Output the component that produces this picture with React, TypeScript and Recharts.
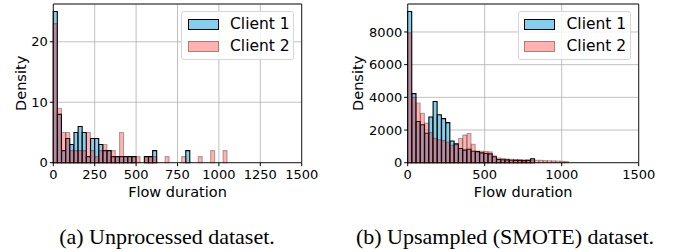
import React from 'react';
import { BarChart, Bar, XAxis, YAxis, CartesianGrid, ReferenceArea } from 'recharts';

// ---------- data ----------
const seriesNames = ['Client 1', 'Client 2'];
const captions = ['(a) Unprocessed dataset.', '(b) Upsampled (SMOTE) dataset.'];
const xLabel = 'Flow duration';
const yLabel = 'Density';

// (a) unprocessed: bins of width 25
const binCentersA = [12.5, 37.5, 62.5, 87.5, 112.5, 137.5, 162.5, 187.5, 212.5, 237.5, 262.5, 287.5, 312.5, 337.5, 362.5, 387.5, 412.5, 437.5, 462.5, 487.5, 512.5, 537.5, 562.5, 587.5, 612.5, 637.5, 662.5, 687.5, 712.5, 737.5, 762.5, 787.5, 812.5, 837.5, 862.5, 887.5, 912.5, 937.5, 962.5, 987.5, 1012.5, 1037.5];
const client1A = [25, 8, 2, 4, 3, 5, 6, 5, 1, 4, 4, 3, 2, 2, 1, 1, 1, 1, 1, 1, 0, 0, 1, 1, 2, 0, 0, 0, 0, 0, 0, 0, 2];
const client2A = [23, 9, 5, 5, 2, 2, 2, 2, 5, 2, 1, 2, 3, 2, 2, 1, 5, 1, 1, 1, 1, 0, 1, 1, 1, 0, 0, 1, 0, 0, 0, 1, 0, 0, 0, 1, 0, 0, 2, 0, 0, 2];
const xTicksA = [0, 250, 500, 750, 1000, 1250, 1500];
const yTicksA = [0, 10, 20];
const yMaxA = 26.25;

// (b) SMOTE: bins of width 27.5
const binCentersB = [13.75, 41.25, 68.75, 96.25, 123.75, 151.25, 178.75, 206.25, 233.75, 261.25, 288.75, 316.25, 343.75, 371.25, 398.75, 426.25, 453.75, 481.25, 508.75, 536.25, 563.75, 591.25, 618.75, 646.25, 673.75, 701.25, 728.75, 756.25, 783.75, 811.25, 838.75, 866.25, 893.75, 921.25, 948.75, 976.25, 1003.75, 1031.25];
const client1B = [9250, 4230, 2520, 2320, 1800, 2800, 3750, 2930, 2700, 2450, 1330, 1150, 870, 770, 820, 700, 680, 600, 560, 540, 360, 200, 180, 170, 150, 140, 140, 130, 140, 240];
const client2B = [7950, 4000, 3650, 3030, 2420, 1850, 1500, 1400, 1350, 1250, 1070, 1100, 1480, 1690, 1790, 1130, 720, 700, 680, 660, 420, 280, 250, 230, 210, 190, 180, 170, 160, 160, 150, 140, 130, 120, 110, 100, 90, 70];
const xTicksB = [0, 500, 1000, 1500];
const yTicksB = [0, 2000, 4000, 6000, 8000];
const yMaxB = 9712.5;

const xDomain = [0, 1500];

const toRows = (centers: number[], c1: number[], c2: number[]) =>
  centers.map((x, i) => ({
    x,
    c1: i < c1.length ? c1[i] : null,
    c2: i < c2.length ? c2[i] : null,
  }));

const rowsA = toRows(binCentersA, client1A, client2A);
const rowsB = toRows(binCentersB, client1B, client2B);

// ---------- styles ----------
const FONT = '"DejaVu Sans", Verdana, sans-serif';
const SERIF = '"Liberation Serif", "Times New Roman", serif';
const C1_FILL = '#87CEEB';
const C2_FILL = '#ff0000';
const C2_OPACITY = 0.3;
const GRID = '#b0b0b0';
const FRAME = '#222';
const TICK_FS = 13;
const LABEL_FS = 14.5;
const LEGEND_FS = 15.5;

const YLab = (props: any) => {
  const { viewBox, cxOff } = props;
  const cx = viewBox.x + cxOff;
  const cy = viewBox.y + viewBox.height / 2;
  return (
    <text x={cx} y={cy} transform={`rotate(-90 ${cx} ${cy})`} textAnchor="middle" dominantBaseline="central"
      fontFamily={FONT} fontSize={LABEL_FS} fill="#000">{yLabel}</text>
  );
};

const LegendBox = ({ left }: { left: number }) => (
  <div style={{ position: 'absolute', left, top: 11, width: 113, height: 49, border: '1px solid #d6d6d6', borderRadius: 3,
    background: 'rgba(255,255,255,0.8)', boxSizing: 'border-box', fontFamily: FONT, fontSize: LEGEND_FS, color: '#000' }}>
    {seriesNames.map((n, i) => (
      <div key={n} style={{ position: 'absolute', left: 5.5, top: 7 + i * 22, height: 11, display: 'flex', alignItems: 'center' }}>
        <div style={{ width: 31, height: 11, boxSizing: 'border-box', flex: 'none',
          background: i === 0 ? C1_FILL : 'rgba(255,0,0,0.3)',
          border: i === 0 ? '1px solid #000' : '1px solid rgba(0,0,0,0.3)' }} />
        <span style={{ marginLeft: 11.5, whiteSpace: 'nowrap', lineHeight: '11px' }}>{n}</span>
      </div>
    ))}
  </div>
);

type PanelProps = {
  left: number; width: number; yAxisWidth: number; marginRight: number;
  rows: any[]; xTicks: number[]; yTicks: number[]; yMax: number; legendLeft: number; yLabOff: number;
};

const H = 205;
const PLOT_TOP = 4;
const PLOT_BOTTOM = 162.7;
const XAXIS_H = 34;

const Panel = (p: PanelProps) => (
  <div style={{ position: 'absolute', left: p.left, top: 0, width: p.width, height: H }}>
    <BarChart width={p.width} height={H} data={p.rows} barCategoryGap={0} barGap={0}
      margin={{ top: PLOT_TOP, right: p.marginRight, left: 0, bottom: H - PLOT_BOTTOM - XAXIS_H }}>
      <XAxis xAxisId="a" type="number" dataKey="x" domain={xDomain} ticks={p.xTicks} interval={0}
        axisLine={false} tickSize={3.5} tickMargin={4} height={XAXIS_H}
        tick={{ fill: '#000', fontSize: TICK_FS, fontFamily: FONT }} tickLine={{ stroke: '#000' }}
        label={{ value: xLabel, position: 'insideBottom', offset: 0, fill: '#000', fontSize: LABEL_FS, fontFamily: FONT }} />
      <XAxis xAxisId="b" type="number" dataKey="x" domain={xDomain} hide />
      <YAxis type="number" domain={[0, p.yMax]} ticks={p.yTicks} interval={0} width={p.yAxisWidth}
        axisLine={false} tickSize={3.5} tickMargin={2}
        tick={{ fill: '#000', fontSize: TICK_FS, fontFamily: FONT }} tickLine={{ stroke: '#000' }}
        label={<YLab cxOff={p.yLabOff} />} />
      <Bar xAxisId="a" dataKey="c1" fill={C1_FILL} stroke="#000" strokeWidth={1.1} isAnimationActive={false} />
      <Bar xAxisId="b" dataKey="c2" fill={C2_FILL} fillOpacity={C2_OPACITY} stroke="#000" strokeOpacity={0.3}
        strokeWidth={1.1} isAnimationActive={false} />
      <CartesianGrid xAxisId="a" stroke={GRID} strokeWidth={0.8} />
      <ReferenceArea xAxisId="a" x1={xDomain[0]} x2={xDomain[1]} y1={0} y2={p.yMax} fill="none" stroke={FRAME}
        strokeWidth={1} fillOpacity={0} ifOverflow="visible" />
    </BarChart>
    <LegendBox left={p.legendLeft} />
  </div>
);

export default function App() {
  return (
    <div style={{ position: 'absolute', left: 0, top: 0, width: 679, height: 252, background: '#fff', overflow: 'hidden' }}>
      <Panel left={0} width={340} yAxisWidth={53.3} marginRight={340 - 301.7} rows={rowsA}
        xTicks={xTicksA} yTicks={yTicksA} yMax={yMaxA} legendLeft={181} yLabOff={20.7} />
      <Panel left={340} width={339} yAxisWidth={67.7} marginRight={339 - 298.7} rows={rowsB}
        xTicks={xTicksB} yTicks={yTicksB} yMax={yMaxB} legendLeft={177.5} yLabOff={18} />
      <div style={{ position: 'absolute', left: 167 - 150, top: 224, width: 300, textAlign: 'center',
        fontFamily: SERIF, fontSize: 22, color: '#000', whiteSpace: 'nowrap' }}>{captions[0]}</div>
      <div style={{ position: 'absolute', left: 505 - 170, top: 224, width: 340, textAlign: 'center',
        fontFamily: SERIF, fontSize: 22, color: '#000', whiteSpace: 'nowrap' }}>{captions[1]}</div>
    </div>
  );
}
